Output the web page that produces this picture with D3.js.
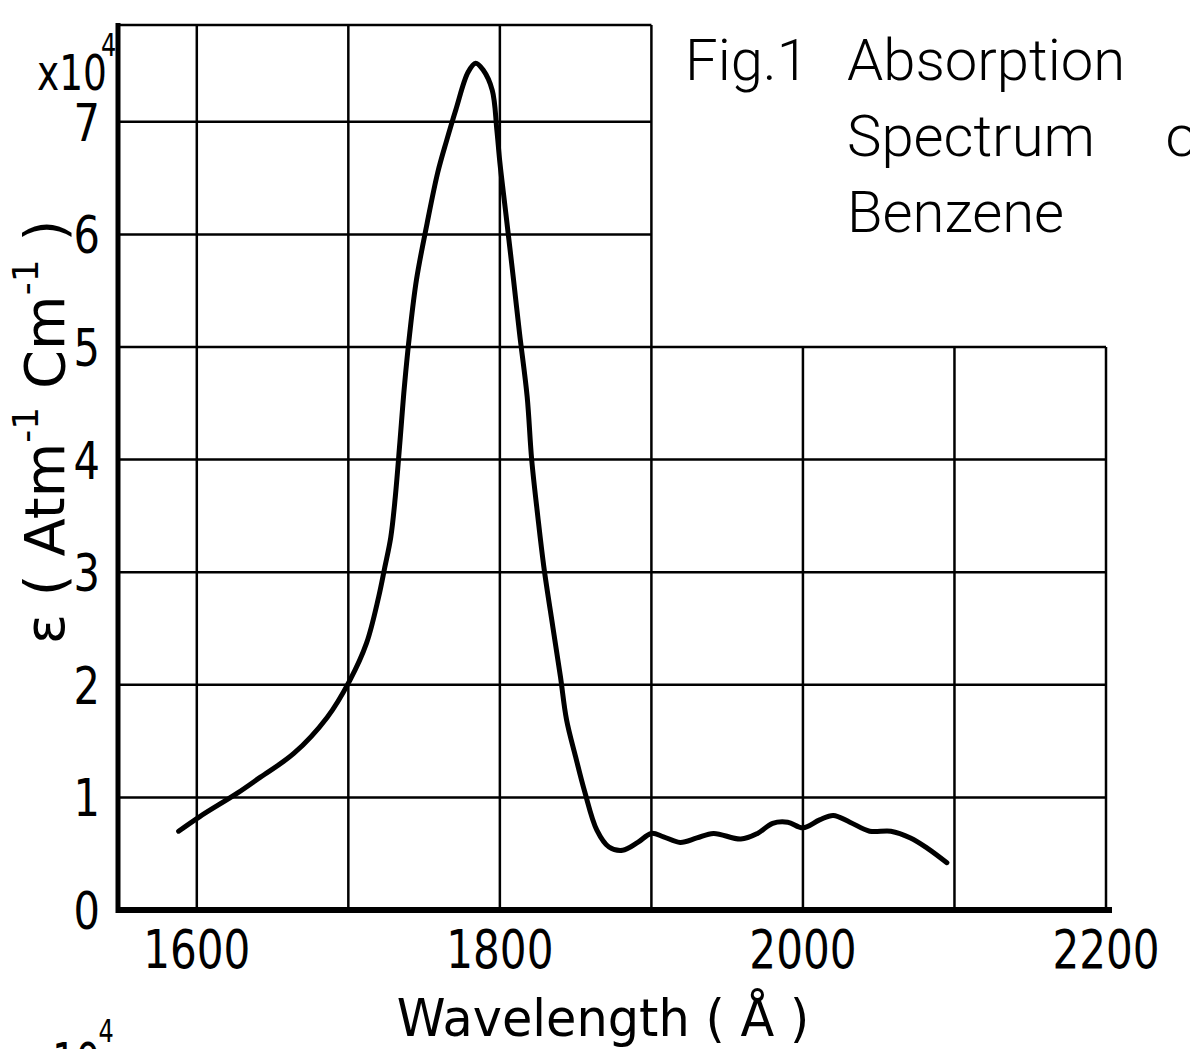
<!DOCTYPE html>
<html>
<head>
<meta charset="utf-8">
<script src="https://cdn.jsdelivr.net/npm/d3@7"></script>
<style>
  body { margin: 0; background: white; }
  text { font-family: "DejaVu Sans", sans-serif; fill: black; }
  .cap { font-family: Roboto, "DejaVu Sans", sans-serif; font-weight: 300; white-space: pre; }
</style>
</head>
<body>
<div id="container"></div>
<script>
// data (wavelength in Angstrom, epsilon in 10^4 Atm^-1 Cm^-1)
let wavelength = [1588, 1602, 1627, 1642, 1664, 1686, 1701, 1712, 1720, 1724, 1728, 1731, 1734, 1737, 1740.5,
  1745, 1752, 1759, 1765, 1771, 1779, 1784, 1789, 1795, 1798, 1800, 1804, 1809, 1813, 1818, 1821, 1825, 1829,
  1835, 1840, 1844, 1850, 1856, 1864, 1872, 1881, 1891, 1900, 1908, 1919, 1930, 1941, 1959, 1970, 1980, 1990,
  2000, 2011, 2020, 2031, 2044, 2058, 2071, 2082, 2095];
let epsilon = [0.70, 0.83, 1.04, 1.18, 1.39, 1.71, 2.04, 2.37, 2.78, 3.04, 3.31, 3.67, 4.15, 4.65, 5.12,
  5.60, 6.10, 6.55, 6.84, 7.11, 7.44, 7.52, 7.46, 7.28, 6.93, 6.64, 6.18, 5.60, 5.12, 4.56, 4.00, 3.50, 3.05,
  2.51, 2.07, 1.69, 1.36, 1.05, 0.71, 0.56, 0.53, 0.60, 0.68, 0.65, 0.60, 0.64, 0.68, 0.63, 0.68, 0.77, 0.78,
  0.73, 0.80, 0.84, 0.78, 0.70, 0.70, 0.64, 0.55, 0.42];

let xGrid = [1600, 1700, 1800, 1900, 2000, 2100, 2200];
let xLabels = [1600, 1800, 2000, 2200];
let yGrid = [1, 2, 3, 4, 5, 6, 7];
let yLabels = [0, 1, 2, 3, 4, 5, 6, 7];

let xMin = 1548;
let yTop = 7.86;   // top edge of the left block of the grid
let xStep = 1900;  // right of this the grid stops at 5
let yStep = 5;

let caption = ["Fig.1", "Absorption", "Spectrum     of", "Benzene"];

let viz = d3.select("#container")
  .append("svg")
    .attr("width", 1190)
    .attr("height", 1049)
    .style("background-color", "white")
;

let x = d3.scaleLinear().domain([xMin, 2200]).range([118, 1106]);
let y = d3.scaleLinear().domain([0, yTop]).range([910, 25]);

// grid
let grid = viz.append("g")
  .attr("stroke", "black")
  .attr("stroke-width", 2.5)
;

grid.selectAll(".vline")
  .data(xGrid)
  .enter()
  .append("line")
    .attr("x1", d => x(d))
    .attr("x2", d => x(d))
    .attr("y1", y(0))
    .attr("y2", d => d <= xStep ? y(yTop) : y(yStep))
;

grid.selectAll(".hline")
  .data(yGrid)
  .enter()
  .append("line")
    .attr("x1", x(xMin))
    .attr("x2", d => d <= yStep ? x(2200) : x(xStep))
    .attr("y1", d => y(d))
    .attr("y2", d => y(d))
;

grid.append("line")
  .attr("x1", x(xMin)).attr("x2", x(xStep))
  .attr("y1", y(yTop)).attr("y2", y(yTop))
;

// heavy axes
viz.append("line")
  .attr("x1", x(xMin)).attr("x2", x(xMin))
  .attr("y1", y(yTop) - 2).attr("y2", y(0) + 3)
  .attr("stroke", "black")
  .attr("stroke-width", 5)
;
viz.append("line")
  .attr("x1", x(xMin) - 2).attr("x2", x(2200) + 6)
  .attr("y1", y(0)).attr("y2", y(0))
  .attr("stroke", "black")
  .attr("stroke-width", 6)
;

// spectrum
let line = d3.line()
  .x((d, i) => x(wavelength[i]))
  .y(d => y(d))
  .curve(d3.curveCatmullRom.alpha(0.5))
;

viz.append("path")
  .attr("d", line(epsilon))
  .attr("fill", "none")
  .attr("stroke", "black")
  .attr("stroke-width", 5)
  .attr("stroke-linecap", "round")
  .attr("stroke-linejoin", "round")
;

// tick labels (narrow lettering -> squeeze horizontally)
viz.selectAll(".ylab")
  .data(yLabels)
  .enter()
  .append("text")
    .text(d => d)
    .attr("transform", d => "translate(100," + (y(d) + 19) + ") scale(0.8,1)")
    .attr("text-anchor", "end")
    .attr("font-size", 52)
;

viz.selectAll(".xlab")
  .data(xLabels)
  .enter()
  .append("text")
    .text(d => d)
    .attr("transform", d => "translate(" + x(d) + ",968) scale(0.78,1)")
    .attr("text-anchor", "middle")
    .attr("font-size", 54)
;

// x10^4 multiplier
let mult = viz.append("text")
  .attr("transform", "translate(37,90) scale(0.75,1)")
  .attr("font-size", 50)
;
mult.append("tspan").text("x10");
mult.append("tspan").text("4").attr("font-size", 32).attr("dy", -34).attr("dx", -8);

// axis titles
viz.append("text")
  .text("Wavelength ( Å )")
  .attr("transform", "translate(603,1036) scale(0.95,1)")
  .attr("text-anchor", "middle")
  .attr("font-size", 52)
;

let ylab = viz.append("text")
  .attr("transform", "translate(64,432) rotate(-90)")
  .attr("text-anchor", "middle")
  .attr("font-size", 56)
;
ylab.append("tspan").text("ε  (  Atm");
ylab.append("tspan").text("-1").attr("font-size", 36).attr("dy", -26);
ylab.append("tspan").text("  Cm").attr("dy", 26);
ylab.append("tspan").text("-1").attr("font-size", 36).attr("dy", -26);
ylab.append("tspan").text("  )").attr("dy", 26);

// figure caption
viz.append("text")
  .attr("class", "cap")
  .text(caption[0])
  .attr("x", 685)
  .attr("y", 80)
  .attr("font-size", 58)
;
viz.selectAll(".capline")
  .data(caption.slice(1))
  .enter()
  .append("text")
    .attr("class", "cap")
    .text(d => d)
    .attr("x", 847)
    .attr("y", (d, i) => 80 + i * 76)
    .attr("font-size", 58)
;

// start of the next figure's multiplier, cut off at the page edge
let mult2 = viz.append("text")
  .attr("transform", "translate(30,1078) scale(0.75,1)")
  .attr("font-size", 50)
;
mult2.append("tspan").text("x10");
mult2.append("tspan").text("4").attr("font-size", 32).attr("dy", -36).attr("dx", -2);
</script>
</body>
</html>
